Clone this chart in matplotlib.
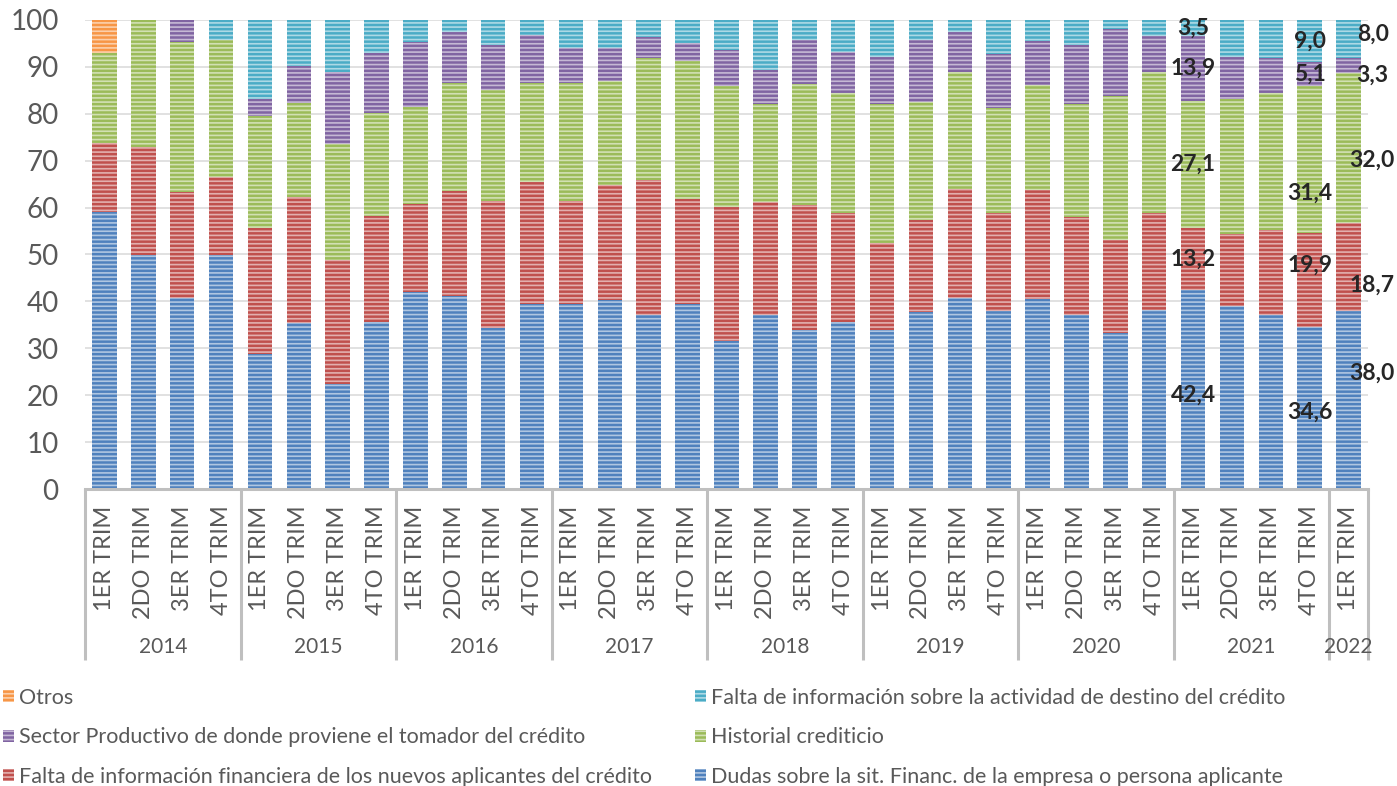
import numpy as np
import matplotlib.pyplot as plt
import matplotlib.transforms as mtransforms

plt.rcParams['font.family'] = ['Lato', 'DejaVu Sans']
plt.rcParams['hatch.linewidth'] = 1.2

# periods (x axis)
years = ['2014', '2015', '2016', '2017', '2018', '2019', '2020', '2021', '2022']
quarters_per_year = [4, 4, 4, 4, 4, 4, 4, 4, 1]
quarter_names = ['1ER TRIM', '2DO TRIM', '3ER TRIM', '4TO TRIM']

# series, bottom to top of each stack (percent)
dudas = [59.0, 50.0, 40.7, 50.0, 28.8, 35.3, 22.3, 35.6, 41.9, 41.2, 34.4, 39.5,
         39.5, 40.2, 37.2, 39.5, 31.5, 37.2, 34.0, 35.6, 34.0, 37.7, 40.7, 38.0,
         40.6, 37.2, 33.2, 38.2, 42.4, 39.0, 37.2, 34.6, 38.0]
falta_fin = [14.8, 22.9, 22.7, 16.5, 26.8, 27.0, 26.5, 22.6, 18.8, 22.3, 27.0, 26.0,
             21.9, 24.6, 28.6, 22.4, 28.7, 24.0, 26.5, 23.2, 18.4, 19.6, 23.3, 20.8,
             23.1, 20.7, 19.9, 20.6, 13.2, 15.3, 18.0, 19.9, 18.7]
historial = [19.2, 27.1, 31.9, 29.2, 23.9, 20.1, 24.7, 22.0, 20.8, 23.1, 23.6, 21.1,
             25.2, 22.3, 26.0, 29.4, 25.7, 20.8, 25.8, 25.7, 29.6, 25.2, 24.9, 22.5,
             22.4, 24.1, 30.7, 30.1, 27.1, 28.9, 29.2, 31.4, 32.0]
sector = [0.0, 0.0, 4.7, 0.0, 3.7, 7.7, 15.4, 12.7, 13.8, 10.9, 9.7, 10.3,
          7.5, 7.0, 4.6, 3.9, 7.6, 7.3, 9.4, 8.7, 10.2, 13.2, 8.5, 11.4,
          9.4, 12.7, 14.2, 7.7, 13.9, 8.9, 7.4, 5.1, 3.3]
falta_act = [0.0, 0.0, 0.0, 4.3, 16.8, 9.9, 11.1, 7.1, 4.7, 2.5, 5.3, 3.1,
             5.9, 5.9, 3.6, 4.8, 6.5, 10.7, 4.3, 6.8, 7.8, 4.3, 2.6, 7.3,
             4.5, 5.3, 2.0, 3.4, 3.5, 7.9, 8.2, 9.0, 8.0]
otros = [7.0] + [0.0] * 32

series_names = [
    'Dudas sobre la sit. Financ. de la empresa o persona aplicante',
    'Falta de información financiera de los nuevos aplicantes del crédito',
    'Historial crediticio',
    'Sector Productivo de donde proviene el tomador del crédito',
    'Falta de información sobre la actividad de destino del crédito',
    'Otros',
]
series_values = [dudas, falta_fin, historial, sector, falta_act, otros]
colors = ['#4F81BD', '#C0504D', '#9BBB59', '#8064A2', '#4BACC6', '#F79646']

# bars that carry data labels
labelled_bars = [28, 31, 32]

# label nudges in points (dx, dy) per (bar, series index)
label_nudge = {
    (28, 0): (0, -4),
    (31, 0): (0, -3), (31, 1): (0, 11), (31, 2): (0, -24),
    (32, 0): (17, 19), (32, 1): (17, -13), (32, 2): (17, -9),
    (32, 3): (17, -7), (32, 4): (18, 3),
}

quarter_labels = []
for y, n in zip(years, quarters_per_year):
    quarter_labels += quarter_names[:n]
x = np.arange(len(quarter_labels))

fig = plt.figure(figsize=(13.97, 7.86), dpi=100)
ax = fig.add_axes([85 / 1397, 1 - 489 / 786, (1368 - 85) / 1397, (489 - 20) / 786])

bottom = np.zeros(len(x))
handles = []
for name, vals, col in zip(series_names, series_values, colors):
    vals = np.array(vals)
    bars = ax.bar(x, vals, 0.63, bottom=bottom, color=col, linewidth=0,
                  edgecolor=(1, 1, 1, 0.55), hatch='----', label=name)
    handles.append(bars)
    bottom = bottom + vals

# data labels
for i in labelled_bars:
    base = 0.0
    for s, vals in enumerate(series_values):
        v = vals[i]
        if v > 0:
            dx, dy = label_nudge.get((i, s), (0, 0))
            ax.annotate(f'{v:.1f}'.replace('.', ','), (x[i], base + v / 2),
                        xytext=(dx, dy), textcoords='offset points',
                        ha='center', va='center', fontsize=16.5,
                        fontweight='bold', color='#262626', annotation_clip=False)
        base += v

ax.set_xlim(-0.5, len(x) - 0.5)
ax.set_ylim(0, 100)
ax.set_yticks(np.arange(0, 101, 10))
ax.tick_params(axis='y', length=0, pad=19, labelsize=20, labelcolor='#595959')
ax.yaxis.grid(True, color='#D9D9D9', linewidth=1.1)
ax.set_axisbelow(True)
for side in ['left', 'right', 'top']:
    ax.spines[side].set_visible(False)
ax.spines['bottom'].set_color('#BFBFBF')
ax.spines['bottom'].set_linewidth(2.2)

ax.set_xticks(x)
ax.set_xticklabels(quarter_labels, rotation=90, fontsize=17, color='#595959')
ax.tick_params(axis='x', length=0, pad=12)

# year groups
trans = mtransforms.blended_transform_factory(ax.transData, ax.transAxes)
ax_h = 489 - 20
start = 0
edges = [-0.5]
for y, n in zip(years, quarters_per_year):
    center = start + (n - 1) / 2
    ax.text(center, -(647 - 489) / ax_h, y, transform=trans, ha='center',
            va='center', fontsize=15, color='#595959')
    start += n
    edges.append(start - 0.5)
for e in edges:
    ax.plot([e, e], [0, -(660 - 489) / ax_h], transform=trans, color='#BFBFBF',
            linewidth=2.2, clip_on=False, solid_capstyle='butt')

# legend in two columns
legend_order = [[5, 3, 1], [4, 2, 0]]
col_x = [3 / 1397, 695 / 1397]
for cols, lx in zip(legend_order, col_x):
    leg = fig.legend([handles[k] for k in cols], [series_names[k] for k in cols],
                     loc='upper left', bbox_to_anchor=(lx, 1 - 688 / 786),
                     frameon=False, fontsize=15.5, labelcolor='#595959',
                     handlelength=0.5, handleheight=0.5, handletextpad=0.25,
                     labelspacing=0.9, borderpad=0, borderaxespad=0)

fig.savefig('out.png', dpi=100)
